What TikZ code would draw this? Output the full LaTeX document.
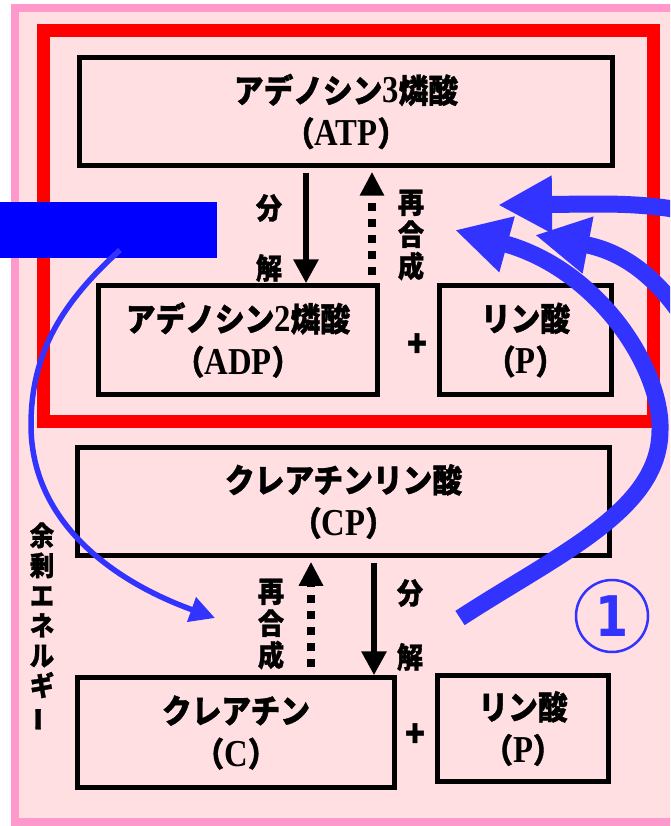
\documentclass[tikz,border=0pt]{standalone}
\usepackage{fontspec}
\setmainfont{Liberation Serif}[BoldFont={Liberation Serif Bold}, FakeStretch=0.86]
\newfontfamily\ltf{Liberation Serif Bold}[FakeStretch=0.86]
\newfontfamily\jpf{Noto Sans CJK JP}[FakeStretch=0.9, BoldFeatures={FakeBold=1.2}]
\newfontfamily\dvs{DejaVu Sans}[FakeStretch=0.85]
\usetikzlibrary{arrows.meta}
\newcommand\jt[1]{{\jpf #1}}
\newcommand\lt[1]{{\fontsize{38pt}{43pt}\ltf #1}}
\newcommand\boxfnt{\fontsize{33pt}{43pt}\selectfont\bfseries}
\newcommand\lblfnt{\fontsize{29pt}{32pt}\selectfont\bfseries\jpf}
\newcommand\vfnt{\fontsize{27pt}{30pt}\selectfont\bfseries\jpf}
\definecolor{pinkbd}{RGB}{255,153,204}
\definecolor{bgpink}{RGB}{255,223,225}
\definecolor{redbd}{RGB}{255,0,0}
\definecolor{tblue}{RGB}{51,51,255}
\definecolor{pblue}{RGB}{0,0,255}
\begin{document}
\begin{tikzpicture}[x=1pt,y=-1pt,
  box/.style={draw=black, line width=4.5pt, inner sep=0pt, align=center, font=\boxfnt},
  lbl/.style={inner sep=0pt, font=\lblfnt},
  plusmark/.style={inner sep=0pt, font=\fontsize{36pt}{36pt}\selectfont\bfseries\jpf},
  decomp/.style={line width=6pt, -{Triangle[length=24pt,width=24pt]}, shorten <=5pt},
  resyn/.style={line width=8pt, dash pattern=on 8pt off 8pt, -{Triangle[length=24pt,width=23pt]}, shorten <=8pt, shorten >=4pt},
  bluethick/.style={draw=tblue, line width=17pt, -{Triangle[length=54pt,width=54pt]}},
  bluethin/.style={draw=tblue, line width=5.5pt, -{Triangle[length=25pt,width=25pt]}}]
\useasboundingbox (0,0) rectangle (670,826);
\clip (0,0) rectangle (670,826);
% background
\fill[white] (0,0) rectangle (670,826);
\filldraw[fill=bgpink, draw=pinkbd, line width=8pt] (15,8) rectangle (720,821.5);
\draw[redbd, line width=13pt] (43.5,30.5) rectangle (653.5,421.5);
% boxes
\node[box, minimum width=533pt, minimum height=108pt] (atp) at (346,111.5)
  {\jt{アデノシン}\lt{3}\jt{燐酸}\\\jt{（}\lt{ATP}\jt{）}};
\node[box, minimum width=279pt, minimum height=109pt] (adp) at (238,340)
  {\jt{アデノシン}\lt{2}\jt{燐酸}\\\jt{（}\lt{ADP}\jt{）}};
\node[box, minimum width=172pt, minimum height=109pt] (p1) at (525.5,340)
  {\jt{リン酸}\\\jt{（}\lt{P}\jt{）}};
\node[box, minimum width=532pt, minimum height=108pt] (cp) at (343.5,501.5)
  {\jt{クレアチンリン酸}\\\jt{（}\lt{CP}\jt{）}};
\node[box, minimum width=317pt, minimum height=110pt] (c) at (236,732.5)
  {\jt{クレアチン}\\\jt{（}\lt{C}\jt{）}};
\node[box, minimum width=171pt, minimum height=106pt] (p2) at (523,728.5)
  {\jt{リン酸}\\\jt{（}\lt{P}\jt{）}};
% plus signs
\node[plusmark] (plus1) at (417,345) {+};
\node[plusmark] (plus2) at (415,735) {+};
% labels
\node[lbl] (bun1) at (269,208) {分};
\node[lbl] (kai1) at (269,268) {解};
\node[lbl, align=center] (sai1) at (411,235) {再\\合\\成};
\node[lbl] (bun2) at (410,593) {分};
\node[lbl] (kai2) at (410,657) {解};
\node[lbl, align=center] (sai2) at (271,624) {再\\合\\成};
% black arrows
\coordinate (u1) at (306,0);
\coordinate (u2) at (372,0);
\coordinate (l1) at (311,0);
\coordinate (l2) at (374,0);
\draw[decomp] (atp.south -| u1) -- (adp.north -| u1);
\draw[resyn] (adp.north -| u2) -- (atp.south -| u2);
\draw[decomp] (cp.south -| l2) -- (c.north -| l2);
\draw[resyn] (c.north -| l1) -- (cp.south -| l1);
% blue bar
\node[fill=pblue, minimum width=217pt, minimum height=56pt, inner sep=0pt, outer sep=0pt, anchor=north west] (bar) at (0,202) {};
% thin arc
\coordinate (arcs) at (120,250);
\coordinate (arce) at (215,618);
\draw[bluethin] (arcs) .. controls (65,300) and (31,350) .. (31,425) .. controls (31,520) and (110,580) .. (arce);
% thick arrows
\coordinate (a1s) at (690,212);
\coordinate (a1e) at (498,205);
\draw[bluethick] (a1s) .. controls (640,202) and (600,204) .. (a1e);
\coordinate (a2s) at (700,345);
\coordinate (a2e) at (535,235);
\draw[bluethick] (a2s) .. controls (675,300) and (640,255) .. (a2e);
\coordinate (a3s) at (460,618);
\coordinate (a3e) at (455,230);
\draw[bluethick] (a3s) .. controls (560,553) and (660,510) .. (660,430) .. controls (662,370) and (600,270) .. (a3e);
% circled one
\node[draw=tblue, circle, line width=2.5pt, minimum size=72pt, inner sep=0pt, text=tblue,
  font=\fontsize{56pt}{56pt}\selectfont\bfseries\dvs] (one) at (612,616) {1};
% vertical text
\node[inner sep=0pt, align=center, font=\vfnt] (yojo) at (42,627)
  {余\\剰\\エ\\ネ\\ル\\ギ\\\rotatebox[origin=c]{90}{ー}};
\end{tikzpicture}
\end{document}
